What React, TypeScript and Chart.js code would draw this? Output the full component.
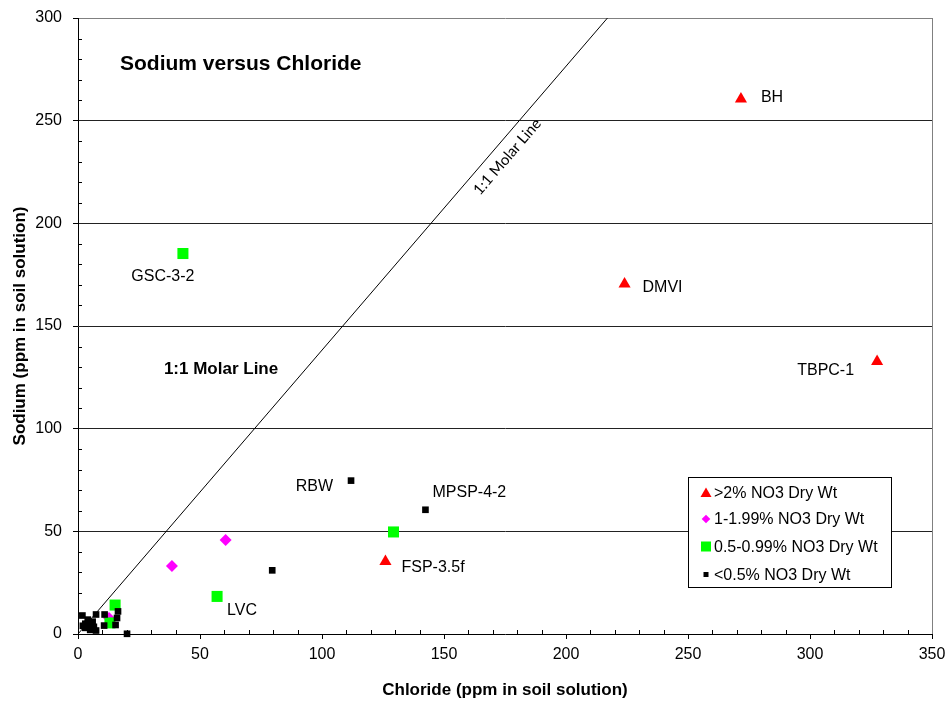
import React, { useEffect, useRef } from "react";
import { Chart, registerables } from "chart.js";

Chart.register(...registerables);

const FONT = '"Liberation Sans", Arial, Helvetica, sans-serif';

// ---- data (Chloride ppm = x, Sodium ppm = y) ----
const xTicks = [0, 50, 100, 150, 200, 250, 300, 350];
const yTicks = [0, 50, 100, 150, 200, 250, 300];

const seriesNames = [
  ">2% NO3 Dry Wt",
  "1-1.99% NO3 Dry Wt",
  "0.5-0.99% NO3 Dry Wt",
  "<0.5% NO3 Dry Wt",
];

const redCl = [271.7, 224.0, 327.5, 126.0];
const redNa = [260.5, 170.4, 132.7, 35.3];

const magentaCl = [38.5, 60.5, 12.7];
const magentaNa = [33.1, 45.8, 7.8];

const greenCl = [43.0, 129.3, 57.0, 15.2, 13.1];
const greenNa = [185.3, 49.7, 18.3, 14.1, 5.4];

const blackCl = [111.9, 142.4, 79.6, 20.1, 1.8, 7.4, 10.9, 16.4, 16.0, 15.4, 10.7, 7.4, 3.0, 4.0, 5.0, 6.0, 3.0, 2.0, 5.0, 4.0, 6.5];
const blackNa = [74.7, 60.5, 31.0, 0.1, 9.0, 9.5, 9.5, 11.0, 7.8, 4.4, 4.1, 1.7, 5.0, 7.0, 4.0, 6.0, 3.0, 4.0, 2.0, 5.0, 3.5];

const molarCl = [0, 217];
const molarNa = [0, 300];

// point labels: text + the point (Cl, Na) they belong to
const labelTexts = ["BH", "DMVI", "TBPC-1", "GSC-3-2", "RBW", "MPSP-4-2", "FSP-3.5f", "LVC"];
const labelCl = [271.7, 224.0, 327.5, 43.0, 111.9, 142.4, 126.0, 57.0];
const labelNa = [260.5, 170.4, 132.7, 185.3, 74.7, 60.5, 35.3, 18.3];
// offsets in px (layout, not data)
const labelLayout: { dx: number; dy: number; align: CanvasTextAlign }[] = [
  { dx: 20, dy: 3, align: "left" },
  { dx: 18, dy: 8, align: "left" },
  { dx: -23, dy: 13.5, align: "right" },
  { dx: -20, dy: 27.5, align: "center" },
  { dx: -18, dy: 10, align: "right" },
  { dx: 7, dy: -13, align: "left" },
  { dx: 16, dy: 10, align: "left" },
  { dx: 10, dy: 19, align: "left" },
];

const toPts = (xs: number[], ys: number[]) => xs.map((x, i) => ({ x, y: ys[i] }));

const RED = "#ff0000";
const MAGENTA = "#ff00ff";
const GREEN = "#00ff00";
const BLACK = "#000000";

const decorPlugin = {
  id: "decor",
  beforeDatasetsDraw(chart: any) {
    const { ctx, chartArea: a, scales } = chart;
    const xs = scales.x;
    const ys = scales.y;
    ctx.save();
    // right border
    ctx.strokeStyle = "#808080";
    ctx.lineWidth = 1;
    ctx.beginPath();
    ctx.moveTo(Math.round(a.right) + 0.5, a.top);
    ctx.lineTo(Math.round(a.right) + 0.5, a.bottom);
    ctx.stroke();
    // minor ticks
    ctx.strokeStyle = "#000";
    ctx.beginPath();
    for (let v = 10; v < 350; v += 10) {
      if (v % 50 === 0) continue;
      const px = Math.round(xs.getPixelForValue(v)) + 0.5;
      ctx.moveTo(px, a.bottom);
      ctx.lineTo(px, a.bottom - 4);
    }
    for (let v = 10; v < 300; v += 10) {
      if (v % 50 === 0) continue;
      const py = Math.round(ys.getPixelForValue(v)) + 0.5;
      ctx.moveTo(a.left, py);
      ctx.lineTo(a.left + 4, py);
    }
    ctx.stroke();
    ctx.restore();
  },
  afterDatasetsDraw(chart: any) {
    const { ctx, chartArea: a, scales } = chart;
    const xs = scales.x;
    const ys = scales.y;
    ctx.save();
    ctx.fillStyle = "#000";
    ctx.textBaseline = "alphabetic";

    // title
    ctx.font = `bold 21px ${FONT}`;
    ctx.textAlign = "left";
    ctx.fillText("Sodium versus Chloride", xs.getPixelForValue(17.2), ys.getPixelForValue(274.7));

    // bold line caption
    ctx.font = `bold 17px ${FONT}`;
    ctx.fillText("1:1 Molar Line", xs.getPixelForValue(35.2), ys.getPixelForValue(126.6));

    // rotated caption along the line
    const p0x = xs.getPixelForValue(molarCl[0]);
    const p0y = ys.getPixelForValue(molarNa[0]);
    const p1x = xs.getPixelForValue(molarCl[1]);
    const p1y = ys.getPixelForValue(molarNa[1]);
    const ang = Math.atan2(p1y - p0y, p1x - p0x);
    const len = Math.hypot(p1x - p0x, p1y - p0y);
    const ux = (p1x - p0x) / len;
    const uy = (p1y - p0y) / len;
    const nx = -uy;
    const ny = ux;
    const along = 0.79 * len;
    const off = 14.5;
    const cx = p0x + ux * along + nx * off;
    const cy = p0y + uy * along + ny * off;
    ctx.save();
    ctx.translate(cx, cy);
    ctx.rotate(ang);
    ctx.font = `15px Lato, ${FONT}`;
    ctx.textAlign = "center";
    ctx.textBaseline = "middle";
    ctx.fillText("1:1 Molar Line", 0, 0);
    ctx.restore();

    // point labels
    ctx.font = `16px ${FONT}`;
    ctx.textBaseline = "alphabetic";
    labelTexts.forEach((t, i) => {
      const l = labelLayout[i];
      ctx.textAlign = l.align;
      ctx.fillText(t, xs.getPixelForValue(labelCl[i]) + l.dx, ys.getPixelForValue(labelNa[i]) + l.dy);
    });

    // legend box
    const bx = Math.round(a.right - 244) + 0.5;
    const by = Math.round(a.bottom - 157) + 0.5;
    const bw = 203;
    const bh = 110;
    ctx.fillStyle = "#fff";
    ctx.fillRect(bx, by, bw, bh);
    ctx.strokeStyle = "#000";
    ctx.lineWidth = 1;
    ctx.strokeRect(bx, by, bw, bh);
    const rows = [15, 41.5, 69, 97];
    const mx = bx + 17.5;
    const tx = bx + 25.5;
    ctx.font = `16px ${FONT}`;
    ctx.textAlign = "left";
    ctx.textBaseline = "middle";
    rows.forEach((ry, i) => {
      const y = by + ry;
      ctx.beginPath();
      if (i === 0) {
        ctx.fillStyle = RED;
        ctx.moveTo(mx, y - 5);
        ctx.lineTo(mx + 5.5, y + 4.5);
        ctx.lineTo(mx - 5.5, y + 4.5);
        ctx.closePath();
        ctx.fill();
      } else if (i === 1) {
        ctx.fillStyle = MAGENTA;
        ctx.moveTo(mx, y - 4.3);
        ctx.lineTo(mx + 4.3, y);
        ctx.lineTo(mx, y + 4.3);
        ctx.lineTo(mx - 4.3, y);
        ctx.closePath();
        ctx.fill();
      } else if (i === 2) {
        ctx.fillStyle = GREEN;
        ctx.fillRect(mx - 5, y - 5, 10, 10);
      } else {
        ctx.fillStyle = BLACK;
        ctx.fillRect(mx - 2.5, y - 2.5, 5, 5);
      }
      ctx.fillStyle = "#000";
      ctx.fillText(seriesNames[i], tx, y + 1);
    });

    // axis titles
    ctx.font = `bold 17px ${FONT}`;
    ctx.textAlign = "center";
    ctx.textBaseline = "middle";
    ctx.fillText("Chloride (ppm in soil solution)", (a.left + a.right) / 2, 690);
    ctx.save();
    ctx.translate(20, (a.top + a.bottom) / 2);
    ctx.rotate(-Math.PI / 2);
    ctx.fillText("Sodium (ppm in soil solution)", 0, 0);
    ctx.restore();

    ctx.restore();
  },
};

export default function App() {
  const ref = useRef<HTMLCanvasElement>(null);
  useEffect(() => {
    document.body.style.margin = "0";
    const canvas = ref.current!;
    const chart = new Chart(canvas, {
      type: "scatter",
      data: {
        datasets: [
          {
            label: "1:1 Molar Line",
            data: toPts(molarCl, molarNa),
            showLine: true,
            borderColor: "#000",
            borderWidth: 1,
            pointRadius: 0,
            order: 5,
          } as any,
          {
            label: seriesNames[0],
            data: toPts(redCl, redNa),
            pointStyle: "triangle",
            pointRadius: 7,
            backgroundColor: RED,
            borderColor: RED,
            borderWidth: 0,
            clip: false,
            order: 1,
          },
          {
            label: seriesNames[1],
            data: toPts(magentaCl, magentaNa),
            pointStyle: "rectRot",
            pointRadius: 6,
            backgroundColor: MAGENTA,
            borderColor: MAGENTA,
            borderWidth: 0,
            clip: false,
            order: 3,
          },
          {
            label: seriesNames[2],
            data: toPts(greenCl, greenNa),
            pointStyle: "rect",
            pointRadius: 7.8,
            backgroundColor: GREEN,
            borderColor: GREEN,
            borderWidth: 0,
            clip: false,
            order: 2,
          },
          {
            label: seriesNames[3],
            data: toPts(blackCl, blackNa),
            pointStyle: "rect",
            pointRadius: 4.7,
            backgroundColor: BLACK,
            borderColor: BLACK,
            borderWidth: 0,
            clip: false,
            order: 0,
          },
        ],
      },
      options: {
        responsive: false,
        animation: false,
        events: [],
        layout: { padding: { left: 0, right: 15, top: 18, bottom: 0 } },
        plugins: {
          legend: { display: false },
          tooltip: { enabled: false },
          title: { display: false },
        },
        scales: {
          x: {
            type: "linear",
            min: 0,
            max: 350,
            afterBuildTicks: (s: any) => {
              s.ticks = xTicks.map((v) => ({ value: v }));
            },
            afterFit: (s: any) => {
              s.height = 68;
              s.paddingLeft = 0;
              s.paddingRight = 0;
            },
            ticks: {
              font: { family: FONT, size: 16 },
              color: "#000",
              padding: 6,
              maxRotation: 0,
            },
            grid: {
              drawOnChartArea: false,
              drawTicks: true,
              tickLength: 5,
              tickColor: "#000",
            },
            border: { display: true, color: "#000", width: 1 },
          },
          y: {
            type: "linear",
            min: 0,
            max: 300,
            afterBuildTicks: (s: any) => {
              s.ticks = yTicks.map((v) => ({ value: v }));
            },
            afterFit: (s: any) => {
              s.width = 78;
              s.paddingTop = 0;
              s.paddingBottom = 0;
            },
            ticks: {
              font: { family: FONT, size: 16 },
              color: "#000",
              padding: 11,
            },
            grid: {
              drawOnChartArea: true,
              drawTicks: true,
              tickLength: 5,
              tickColor: "#000",
              lineWidth: 1,
              color: (c: any) =>
                c.tick && c.tick.value === 300
                  ? "#808080"
                  : c.tick && c.tick.value === 0
                  ? "rgba(0,0,0,0)"
                  : "#222",
            },
            border: { display: true, color: "#000", width: 1 },
          },
        },
      },
      plugins: [decorPlugin],
    });
    return () => chart.destroy();
  }, []);
  return (
    <div style={{ width: 947, height: 702 }}>
      <canvas ref={ref} width={947} height={702} style={{ display: "block" }} />
    </div>
  );
}
